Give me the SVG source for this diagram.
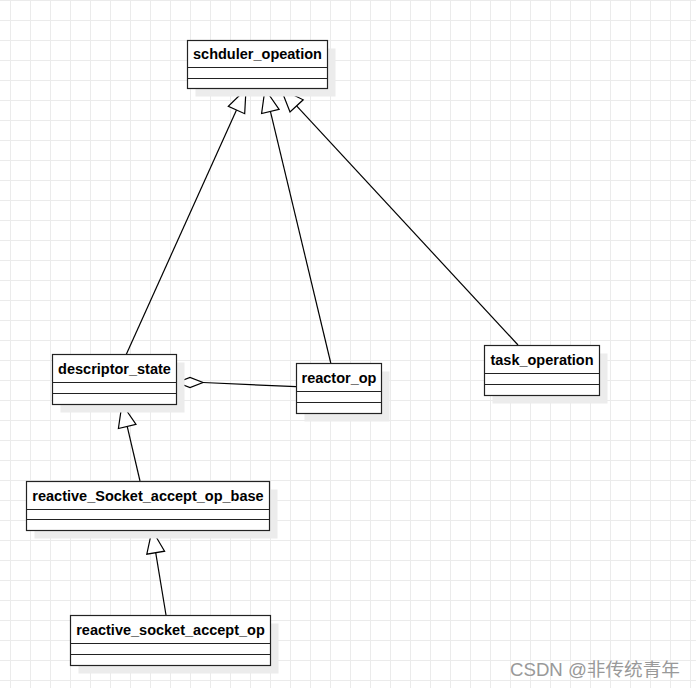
<svg xmlns="http://www.w3.org/2000/svg" width="696" height="688" viewBox="0 0 696 688">
<defs>
<pattern id="grid" x="10" y="0" width="20" height="20" patternUnits="userSpaceOnUse">
<path d="M0.5 0 V20 M0 0.5 H20" fill="none" stroke="#ebebeb" stroke-width="1"/>
</pattern>
<style>
.shadow{fill:#ececec}
.box{fill:#fff;stroke:#222;stroke-width:1.2}
.div{stroke:#222;stroke-width:1.2}
.name{font-family:"Liberation Sans",Arial,sans-serif;font-size:14.5px;font-weight:bold;fill:#000;text-anchor:middle}
.edge{fill:none;stroke:#000;stroke-width:1.2}
.head{fill:#fff;stroke:#000;stroke-width:1.2;stroke-linejoin:miter}
</style>
</defs>
<rect width="696" height="688" fill="#fff"/>
<rect width="696" height="688" fill="url(#grid)"/>

<g id="connectors">
<line class="edge" x1="126" y1="355" x2="236.5" y2="110"/>
<polygon class="head" points="246,89 244.7,113.7 228.3,106.3"/>
<line class="edge" x1="331" y1="364" x2="270.4" y2="111.4"/>
<polygon class="head" points="265,89 279.1,109.3 261.6,113.5"/>
<line class="edge" x1="518" y1="345" x2="296.6" y2="105.9"/>
<polygon class="head" points="281,89 303.2,99.8 290,112"/>
<line class="edge" x1="140" y1="481" x2="127.2" y2="426.4"/>
<polygon class="head" points="122,404 136,424.3 118.4,428.5"/>
<line class="edge" x1="166" y1="615" x2="155.7" y2="552.7"/>
<polygon class="head" points="152,530 164.6,551.2 146.8,554.2"/>
<line class="edge" x1="203" y1="382.5" x2="296" y2="386.7"/>
<polygon class="head" points="177,382.5 190,377.5 203,382.5 190,387.5"/>
</g>

<g id="schduler_opeation">
<rect class="shadow" x="195.5" y="48.5" width="140" height="48"/>
<rect class="box" x="187.5" y="40.5" width="140" height="48"/>
<line class="div" x1="187.5" y1="67.5" x2="327.5" y2="67.5"/>
<line class="div" x1="187.5" y1="78.5" x2="327.5" y2="78.5"/>
<text class="name" x="257.5" y="59">schduler_opeation</text>
</g>

<g id="descriptor_state">
<rect class="shadow" x="60.5" y="362.5" width="124" height="50"/>
<rect class="box" x="52.5" y="354.5" width="124" height="50"/>
<line class="div" x1="52.5" y1="382.5" x2="176.5" y2="382.5"/>
<line class="div" x1="52.5" y1="393.5" x2="176.5" y2="393.5"/>
<text class="name" x="114.5" y="374">descriptor_state</text>
</g>

<g id="reactor_op">
<rect class="shadow" x="304.5" y="371.5" width="85" height="50"/>
<rect class="box" x="296.5" y="363.5" width="85" height="50"/>
<line class="div" x1="296.5" y1="391.5" x2="381.5" y2="391.5"/>
<line class="div" x1="296.5" y1="402.5" x2="381.5" y2="402.5"/>
<text class="name" x="339" y="383">reactor_op</text>
</g>

<g id="task_operation">
<rect class="shadow" x="492.5" y="353.5" width="115" height="50"/>
<rect class="box" x="484.5" y="345.5" width="115" height="50"/>
<line class="div" x1="484.5" y1="373.5" x2="599.5" y2="373.5"/>
<line class="div" x1="484.5" y1="384.5" x2="599.5" y2="384.5"/>
<text class="name" x="542" y="365">task_operation</text>
</g>

<g id="reactive_Socket_accept_op_base">
<rect class="shadow" x="34.5" y="489.5" width="243" height="49"/>
<rect class="box" x="26.5" y="481.5" width="243" height="49"/>
<line class="div" x1="26.5" y1="509.5" x2="269.5" y2="509.5"/>
<line class="div" x1="26.5" y1="519.5" x2="269.5" y2="519.5"/>
<text class="name" x="148" y="500.5">reactive_Socket_accept_op_base</text>
</g>

<g id="reactive_socket_accept_op">
<rect class="shadow" x="78.5" y="623.5" width="200" height="50"/>
<rect class="box" x="70.5" y="615.5" width="200" height="50"/>
<line class="div" x1="70.5" y1="643.5" x2="270.5" y2="643.5"/>
<line class="div" x1="70.5" y1="654.5" x2="270.5" y2="654.5"/>
<text class="name" x="170.5" y="635">reactive_socket_accept_op</text>
</g>

<text x="510" y="676" font-family="'Liberation Sans','Noto Sans CJK SC',sans-serif" font-size="18" fill="#999" textLength="170" lengthAdjust="spacingAndGlyphs">CSDN @非传统青年</text>
</svg>
